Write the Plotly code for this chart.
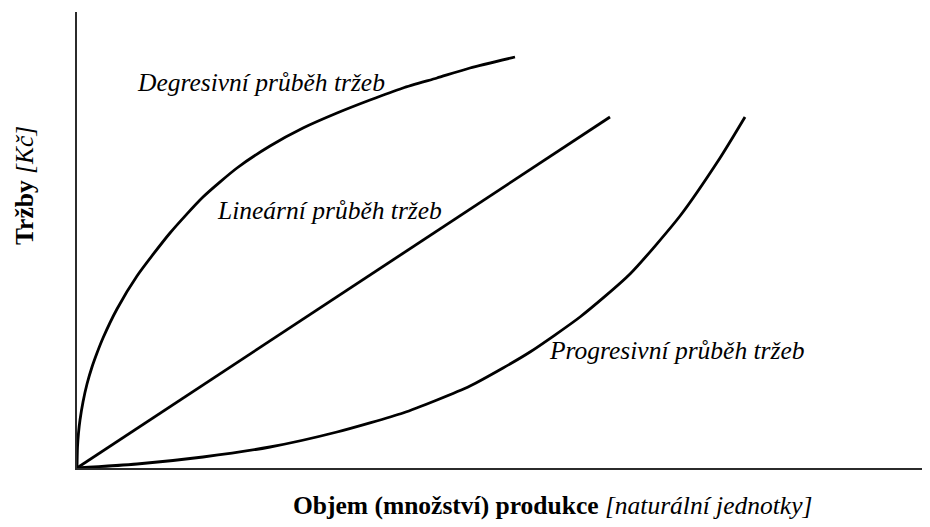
import plotly.graph_objects as go

# Values (arbitrary units, x: volume, y: revenue)
deg_x = [0, 0.5, 1.5, 3, 6, 10, 15, 20, 26, 40, 60, 93, 126, 160, 193, 226, 260, 293, 326, 360, 393, 438]
deg_y = [0, 21, 35, 48, 66, 84, 101, 115, 130, 159, 192, 235, 271, 300, 322, 340, 355, 368, 380, 390, 400, 411]

lin_x = [0, 533]
lin_y = [0, 351]

prog_x = [0, 60, 126, 193, 260, 326, 360, 393, 426, 453, 503, 553, 603, 643, 656, 668]
prog_y = [0, 4, 11, 21, 36, 55, 68, 82, 100, 116, 151, 194, 252, 310, 331, 351]

labels = ["Degresivní průběh tržeb", "Lineární průběh tržeb", "Progresivní průběh tržeb"]
x_title_bold = "Objem (množství) produkce"
x_title_italic = "[naturální jednotky]"
y_title_bold = "Tržby"
y_title_italic = "[Kč]"

# page body has an 8px margin: size the figure so it fills the 930x527 window
OFF = 8
W, H = 930 - OFF, 527 - OFF
# plot area in page pixels: x 77..929, y 12..468
L, R = 77 - OFF, 1
T, B = 12 - OFF, H - (468 - OFF)
PW, PH = W - L - R, H - T - B

def px(xp):  # page pixel x -> paper
    return (xp - OFF - L) / PW

def py(yp):  # page pixel y -> paper
    return (H - B - (yp - OFF)) / PH

FONT = "Liberation Serif, Times New Roman, Times, serif"

fig = go.Figure()
line_style = dict(color="black", width=2.8)
fig.add_trace(go.Scatter(x=deg_x, y=deg_y, mode="lines", line=dict(**line_style, shape="spline", smoothing=0.6), hoverinfo="skip"))
fig.add_trace(go.Scatter(x=lin_x, y=lin_y, mode="lines", line=line_style, hoverinfo="skip"))
fig.add_trace(go.Scatter(x=prog_x, y=prog_y, mode="lines", line=dict(**line_style, shape="spline", smoothing=0.6), hoverinfo="skip"))

label_pos = [(136, 82), (216, 210), (548, 350)]
for text, (xp, yp) in zip(labels, label_pos):
    fig.add_annotation(text=f"<i>{text}</i>", xref="paper", yref="paper",
                       x=px(xp), y=py(yp), xanchor="left", yanchor="middle", borderpad=0,
                       showarrow=False, font=dict(family=FONT, size=25.5, color="black"))

fig.add_annotation(text=f"<b>{x_title_bold}</b> <i>{x_title_italic}</i>", xref="paper", yref="paper",
                   x=px(552), y=py(505), xanchor="center", yanchor="middle", borderpad=0,
                   showarrow=False, font=dict(family=FONT, size=25.5, color="black"))
fig.add_annotation(text=f"<b>{y_title_bold}</b> <i>{y_title_italic}</i>", xref="paper", yref="paper",
                   x=px(25), y=py(186), xanchor="center", yanchor="middle", textangle=-90, borderpad=0,
                   showarrow=False, font=dict(family=FONT, size=25.5, color="black"))

axis_common = dict(showgrid=False, zeroline=False, showticklabels=False, ticks="",
                   showline=True, linecolor="#2b2b2b", linewidth=2, fixedrange=True)
fig.update_xaxes(range=[0, PW], **axis_common)
fig.update_yaxes(range=[0, PH], **axis_common)

fig.update_layout(width=W, height=H, margin=dict(l=L, r=R, t=T, b=B),
                  paper_bgcolor="white", plot_bgcolor="white", showlegend=False)

fig.write_html("out.html")
